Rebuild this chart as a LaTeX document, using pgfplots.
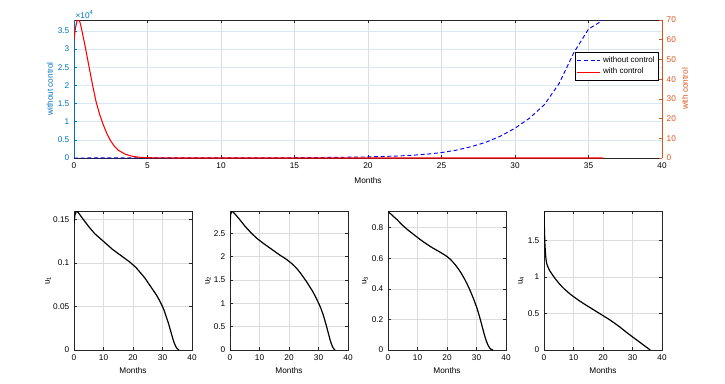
\documentclass[border=0pt]{standalone}
\usepackage{fontspec}
\setmainfont{Liberation Sans}
\usepackage{pgfplots}
\pgfplotsset{compat=1.18}

\definecolor{mlblue}{RGB}{0,114,189}
\definecolor{mlorange}{RGB}{217,83,25}
\definecolor{axgray}{RGB}{38,38,38}
\definecolor{gridgray}{RGB}{220,220,220}
\definecolor{gridblue}{RGB}{215,232,244}

% 1 px of the reference = 0.75pt
\pgfplotsset{
  mlstyle/.style={
    scale only axis,
    font=\fontsize{6.2}{7}\selectfont,
    tick label style={font=\fontsize{6.2}{7}\selectfont, /pgf/number format/assume math mode=true},
    label style={font=\fontsize{6.2}{7}\selectfont},
    axis line style={axgray, line width=0.5pt},
    tick style={axgray, line width=0.5pt},
    major tick length=2.5pt,
    tick align=inside,
    scaled ticks=false,
    /pgf/number format/fixed,
    major grid style={gridgray, line width=0.5pt},
  },
  smallax/.style={
    mlstyle,
    anchor=south west,
    width=88.5pt, height=104.25pt,
    xmin=0, xmax=40, xtick={0,10,20,30,40},
    xmajorgrids, ymajorgrids,
    xlabel={Months},
    xlabel style={yshift=2pt},
  },
  ulabel/.style={ylabel style={at={(rel axis cs:#1,0.5)}, rotate=0, anchor=center}},
  ucurve/.style={black, line width=0.9pt},
}

\begin{document}
\begin{tikzpicture}

% ---------- top: without control (left axis) ----------
\begin{axis}[
  mlstyle, name=top,
  at={(55.5pt,-118.5pt)}, anchor=south west,
  width=441pt, height=103.5pt,
  xmin=0, xmax=40, ymin=0, ymax=38000,
  xtick={0,5,...,40},
  ytick={0,5000,10000,15000,20000,25000,30000,35000},
  yticklabels={0,0.5,1,1.5,2,2.5,3,3.5},
  axis x line*=box, axis y line*=left,
  xtick pos=both, ytick pos=left,
  y axis line style={mlblue},
  ytick style={mlblue},
  yticklabel style={mlblue},
  xmajorgrids, ymajorgrids,
  y grid style={gridblue},
  xlabel={Months},
  ylabel={without control},
  ylabel style={mlblue, at={(rel axis cs:-0.041,0.5)}, anchor=center},
]
\addplot[blue, line width=0.7pt, dash pattern=on 3pt off 2pt] coordinates {
  (0,10) (5,15) (10,30) (15,80) (18,180) (20,300) (22,550) (23,750)
  (24,1050) (25,1500) (26,2150) (27,3100) (28,4300) (29,6000) (30,8200)
  (31,11000) (32,14700) (33,20500) (34,29000) (35,35500) (36,38000) (36.5,40000)
};
\end{axis}

% ---------- top: with control (right axis) ----------
\begin{axis}[
  mlstyle,
  at={(55.5pt,-118.5pt)}, anchor=south west,
  width=441pt, height=103.5pt,
  xmin=0, xmax=40, ymin=0, ymax=70,
  ytick={0,10,...,70},
  axis x line=none, axis y line*=right,
  ytick pos=right,
  y axis line style={mlorange},
  ytick style={mlorange},
  yticklabel style={mlorange},
  ylabel={with control},
  ylabel style={mlorange, at={(rel axis cs:1.039,0.5)}, anchor=center},
  legend style={
    at={(0.995,0.768)}, anchor=north east,
    draw=black, fill=white, line width=0.5pt,
    font=\fontsize{6}{6.5}\selectfont,
    inner sep=1pt, row sep=-1pt,
  },
  legend cell align=left,
  legend image code/.code={\draw[#1] (0pt,0pt) -- (17pt,0pt);},
]
\addlegendimage{blue, line width=0.7pt, dash pattern=on 3pt off 2pt}
\addlegendentry{without control}
\addplot[red, line width=0.8pt] coordinates {
  (0,60) (0.1,66) (0.25,71) (0.4,69) (0.5,66) (0.75,57) (1,47.2)
  (1.25,37.5) (1.5,28.6) (1.75,22) (2,16.7) (2.25,12.2) (2.5,8.6)
  (2.75,6) (3,4) (3.5,1.9) (4,0.8) (4.5,0.35) (5,0.15) (6,0.03)
  (8,0) (36,0)
};
\addlegendentry{with control}
\end{axis}
\node[mlblue, anchor=south west, inner sep=1pt, font=\fontsize{6.2}{7}\selectfont]
  at (top.north west) {×10\textsuperscript{4}};

% ---------- u1 ----------
\begin{axis}[smallax, at={(55.5pt,-262.5pt)},
  ymin=0, ymax=0.16, ytick={0,0.05,0.1,0.15},
  ylabel={u\textsubscript{1}},
  ylabel style={at={(rel axis cs:-0.22,0.5)}, anchor=center}]
\addplot[ucurve] coordinates {
  (0,0.145) (0.3,0.155) (0.8,0.16) (1.5,0.158) (3,0.151) (5,0.142) (7,0.134)
  (9,0.128) (11,0.122) (13,0.116) (15,0.111) (17,0.106) (19,0.101) (20,0.098)
  (21,0.095) (22,0.091) (23,0.087) (24,0.083) (25,0.078) (26,0.073) (27,0.068)
  (28,0.063) (29,0.057) (30,0.05) (30.5,0.046) (31,0.041) (31.5,0.036)
  (32,0.031) (32.5,0.025) (33,0.019) (33.5,0.013) (34,0.008) (34.5,0.004)
  (35,0.0015) (35.6,0)
};
\end{axis}

% ---------- u2 ----------
\begin{axis}[smallax, at={(172.5pt,-262.5pt)},
  ymin=0, ymax=2.98, ytick={0,0.5,1,1.5,2,2.5},
  ylabel={u\textsubscript{2}},
  ylabel style={at={(rel axis cs:-0.186,0.5)}, anchor=center}]
\addplot[ucurve] coordinates {
  (0,2.65) (0.2,2.9) (0.6,2.98) (1.5,2.93) (3,2.82) (5,2.66) (7,2.52)
  (9,2.4) (11,2.3) (13,2.21) (15,2.12) (17,2.03) (19,1.95) (20,1.9)
  (21,1.85) (22,1.79) (23,1.72) (24,1.64) (25,1.55) (26,1.46) (27,1.36)
  (28,1.26) (29,1.14) (30,1.01) (30.5,0.94) (31,0.86) (31.5,0.77) (32,0.67)
  (32.5,0.56) (33,0.44) (33.5,0.32) (34,0.2) (34.5,0.11) (35,0.04) (35.6,0)
};
\end{axis}

% ---------- u3 ----------
\begin{axis}[smallax, at={(291pt,-262.5pt)},
  ymin=0, ymax=0.91, ytick={0,0.2,0.4,0.6,0.8},
  ylabel={u\textsubscript{3}},
  ylabel style={at={(rel axis cs:-0.195,0.5)}, anchor=center}]
\addplot[ucurve] coordinates {
  (0,0.905) (1,0.89) (2,0.872) (3,0.855) (5,0.815) (7,0.782) (9,0.752)
  (11,0.722) (13,0.695) (15,0.67) (17,0.648) (19,0.625) (20,0.612)
  (21,0.596) (22,0.576) (23,0.553) (24,0.527) (25,0.497) (26,0.463)
  (27,0.425) (28,0.382) (29,0.335) (30,0.283) (30.5,0.253) (31,0.22)
  (31.5,0.185) (32,0.148) (32.5,0.112) (33,0.078) (33.5,0.05) (34,0.028)
  (34.5,0.012) (35,0.004) (35.6,0)
};
\end{axis}

% ---------- u4 ----------
\begin{axis}[smallax, at={(408pt,-262.5pt)},
  ymin=0, ymax=1.9, ytick={0,0.5,1,1.5},
  ylabel={u\textsubscript{4}},
  ylabel style={at={(rel axis cs:-0.195,0.5)}, anchor=center}]
\addplot[ucurve] coordinates {
  (0,1.9) (0.15,1.65) (0.3,1.45) (0.5,1.32) (0.7,1.23) (1,1.17) (1.5,1.12)
  (2,1.08) (3,1.02) (4,0.965) (5,0.915) (6,0.87) (7,0.83) (8,0.795) (9,0.76)
  (10,0.73) (12,0.672) (14,0.62) (16,0.57) (18,0.52) (20,0.47) (22,0.42)
  (24,0.365) (26,0.305) (28,0.24) (30,0.18) (32,0.12) (34,0.06) (35,0.03)
  (36,0)
};
\end{axis}

\pgfresetboundingbox
\path[use as bounding box] (0pt,0pt) rectangle (543.75pt,-287.25pt);
\end{tikzpicture}
\end{document}
